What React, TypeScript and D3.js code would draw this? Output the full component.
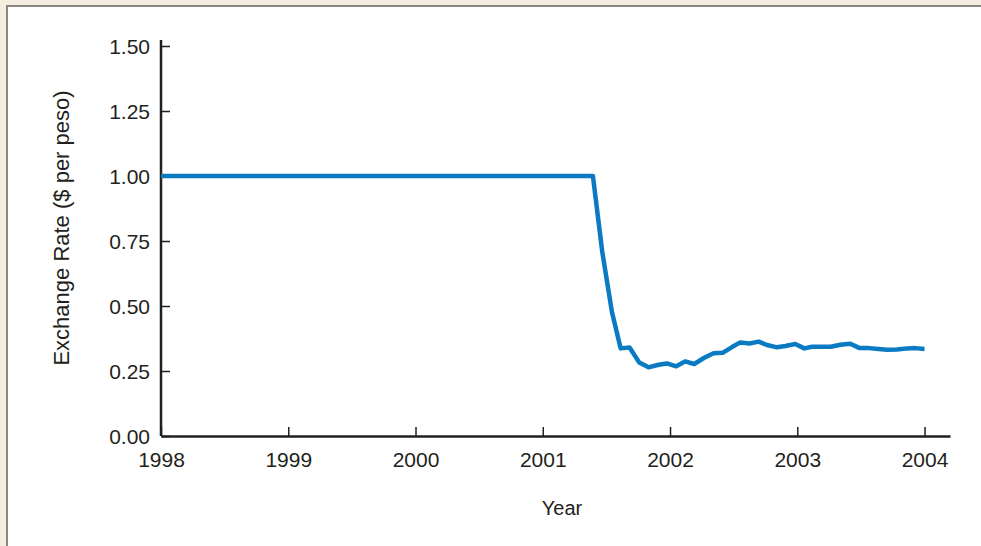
import React, { useEffect, useRef } from 'react';
import * as d3 from 'd3';

// decimal year, $ per peso
const years = [
  1998.0, 2001.394, 2001.467, 2001.543, 2001.612, 2001.682, 2001.758, 2001.831, 2001.91, 2001.976,
  2002.049, 2002.119, 2002.19, 2002.269, 2002.342, 2002.413, 2002.487, 2002.552, 2002.625, 2002.696,
  2002.762, 2002.84, 2002.906, 2002.984, 2003.055, 2003.116, 2003.194, 2003.265, 2003.338, 2003.417,
  2003.49, 2003.561, 2003.639, 2003.705, 2003.784, 2003.862, 2003.928, 2004.0,
];
const rates = [
  1.0, 1.0, 0.71, 0.478, 0.337, 0.34, 0.283, 0.264, 0.274, 0.279,
  0.268, 0.287, 0.277, 0.301, 0.318, 0.32, 0.342, 0.36, 0.356, 0.363,
  0.35, 0.341, 0.346, 0.354, 0.337, 0.343, 0.343, 0.343, 0.351, 0.355,
  0.338, 0.338, 0.335, 0.332, 0.333, 0.337, 0.338, 0.335,
];
const xTicks = [1998, 1999, 2000, 2001, 2002, 2003, 2004];
const yTicks = [0, 0.25, 0.5, 0.75, 1.0, 1.25, 1.5];

const W = 981;
const H = 546;
const INK = '#231f20';
const FONT = '"Liberation Sans", Arial, Helvetica, sans-serif';
const FS = '21px';

const App = () => {
  const ref = useRef(null);

  useEffect(() => {
    const svg = d3.select(ref.current);
    svg.selectAll('*').remove();

    const x = d3.scaleLinear().domain([1998, 2004.2]).range([161, 950]);
    const y = d3.scaleLinear().domain([0, 1.5]).range([436, 46]);

    // beige frame + white panel
    svg.append('rect').attr('width', W).attr('height', H).attr('fill', '#f4ede0');
    svg.append('rect').attr('x', 7).attr('y', 6).attr('width', W).attr('height', H)
      .attr('fill', '#fff').attr('stroke', '#8c8782').attr('stroke-width', 2);

    const yAxis = svg.append('g').attr('transform', 'translate(161,0)')
      .call(d3.axisLeft(y).tickValues(yTicks).tickSizeInner(-9).tickSizeOuter(0).tickPadding(11)
        .tickFormat(d3.format('.2f')));
    yAxis.select('.domain').remove();
    yAxis.append('line').attr('y1', y(1.5) - 6).attr('y2', y(0)).attr('stroke', INK).attr('stroke-width', 2.5);
    yAxis.selectAll('.tick line').attr('stroke', INK).attr('stroke-width', 1.5);
    yAxis.selectAll('.tick text').attr('fill', INK).style('font-size', FS).style('font-family', FONT)
      .attr('dy', '0.36em');

    const xAxis = svg.append('g').attr('transform', 'translate(0,436)')
      .call(d3.axisBottom(x).tickValues(xTicks).tickSizeInner(-9).tickSizeOuter(0).tickPadding(16)
        .tickFormat(d3.format('d')));
    xAxis.select('.domain').attr('stroke', INK).attr('stroke-width', 2.5);
    xAxis.selectAll('.tick line').attr('stroke', INK).attr('stroke-width', 1.5);
    xAxis.selectAll('.tick text').attr('fill', INK).style('font-size', FS).style('font-family', FONT);

    const line = d3.line<number>()
      .x((d, i) => x(years[i]))
      .y((d) => y(d));

    svg.append('path').datum(rates).attr('d', line)
      .attr('fill', 'none').attr('stroke', '#0a7bc2').attr('stroke-width', 4.5)
      .attr('stroke-linejoin', 'round');

    svg.append('text').attr('x', 562).attr('y', 515).attr('text-anchor', 'middle')
      .attr('fill', INK).style('font-size', '20px').style('font-family', FONT).text('Year');

    svg.append('text').attr('transform', 'translate(69,228) rotate(-90)').attr('text-anchor', 'middle')
      .attr('fill', INK).style('font-size', '22px').style('font-family', FONT)
      .text('Exchange Rate ($ per peso)');
  }, []);

  return (
    <svg ref={ref} width={W} height={H}
      style={{ position: 'absolute', left: 0, top: 0, display: 'block' }} />
  );
};

export default App;
